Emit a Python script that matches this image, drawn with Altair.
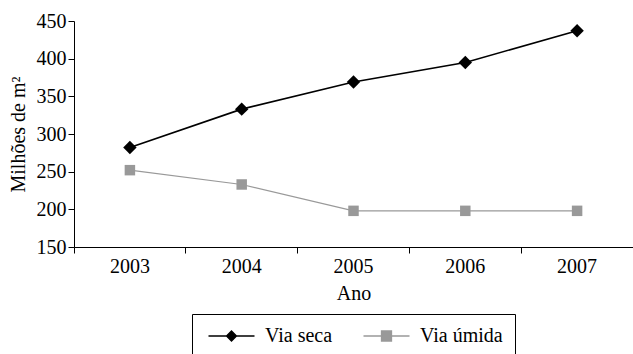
import altair as alt
import pandas as pd

# Production by year (millions of m²)
anos = ["2003", "2004", "2005", "2006", "2007"]
via_seca = [282, 333, 369, 395, 437]
via_umida = [252, 233, 198, 198, 198]

series_names = ["Via seca", "Via úmida"]
series_colors = ["#000000", "#999999"]
series_widths = [1.6, 1.1]

rows = []
for nome, valores in zip(series_names, [via_seca, via_umida]):
    for ano, v in zip(anos, valores):
        rows.append({"Ano": ano, "valor": v, "serie": nome})
df = pd.DataFrame(rows)

FONT = "Liberation Serif"

x_enc = alt.X(
    "Ano:N",
    title="Ano",
    sort=anos,
    scale=alt.Scale(type="band", paddingInner=0, paddingOuter=0),
    axis=alt.Axis(
        bandPosition=0, labelAngle=0, tickSize=6, labelPadding=3,
        titlePadding=7, domainColor="black", tickColor="black",
        labelColor="black", titleColor="black", grid=False,
    ),
)
y_enc = alt.Y(
    "valor:Q",
    title="Milhões de m²",
    scale=alt.Scale(domain=[150, 450], nice=False, zero=False),
    axis=alt.Axis(
        values=[150, 200, 250, 300, 350, 400, 450], tickSize=6,
        labelPadding=2, titlePadding=8, domainColor="black",
        tickColor="black", labelColor="black", titleColor="black", grid=False,
    ),
)

# Scales for the plotted marks (listed last-to-first so their unused legends
# stay apart from the legend built below)
mark_color = alt.Scale(domain=series_names[::-1], range=series_colors[::-1])
mark_width = alt.Scale(domain=series_names[::-1], range=series_widths[::-1])

lines = alt.Chart(df).mark_line().encode(
    x=x_enc,
    y=y_enc,
    color=alt.Color("serie:N", scale=mark_color, legend=None),
    strokeWidth=alt.StrokeWidth("serie:N", scale=mark_width, legend=None),
)

seca_points = alt.Chart(df).transform_filter(
    alt.datum.serie == "Via seca"
).mark_point(filled=True, opacity=1, shape="diamond", size=180).encode(
    x=x_enc, y=y_enc,
    color=alt.Color("serie:N", scale=mark_color, legend=None),
)
umida_points = alt.Chart(df).transform_filter(
    alt.datum.serie == "Via úmida"
).mark_point(filled=True, opacity=1, shape="square", size=110).encode(
    x=x_enc, y=y_enc,
    color=alt.Color("serie:N", scale=mark_color, legend=None),
)

# Legend symbols: a short line with the marker drawn on it.
# Path units are 5 px (symbol size 100); the line runs ~46 px to the right.
legend_paths = [
    "M-1.1,0L8.1,0M3.5,-1L4.5,0L3.5,1L2.5,0Z",
    "M-1.1,0L8.1,0M2.5,-1L4.5,-1L4.5,1L2.5,1Z",
]
legend_color = alt.Scale(domain=series_names, range=series_colors)
legend_def = alt.Legend(
    title=None, orient="none", legendX=118, legendY=293, direction="horizontal",
    strokeColor="black", fillColor="white", padding=12, symbolSize=100,
    symbolStrokeWidth=1.3,
    labelFont=FONT, labelFontSize=20, labelColor="black",
    labelOffset=41, columnPadding=26,
)
legend_layer = alt.Chart(df).transform_filter("false").mark_point(
    filled=True, opacity=1
).encode(
    fill=alt.Fill("serie:N", scale=legend_color, legend=legend_def),
    stroke=alt.Stroke("serie:N", scale=legend_color, legend=legend_def),
    shape=alt.Shape(
        "serie:N", scale=alt.Scale(domain=series_names, range=legend_paths), legend=legend_def
    ),
)

chart = (
    alt.layer(lines, seca_points, umida_points, legend_layer)
    .properties(
        width=559, height=226,
        autosize=alt.AutoSizeParams(type="none"),
        padding={"left": 74, "top": 21, "right": 0, "bottom": 107},
        background="white",
    )
    .configure_view(stroke=None)
    .configure_axis(labelFont=FONT, titleFont=FONT, labelFontSize=20,
                    titleFontSize=20, titleFontWeight="normal")
)

chart.save("out.html", embed_options={"renderer": "svg", "actions": False})
